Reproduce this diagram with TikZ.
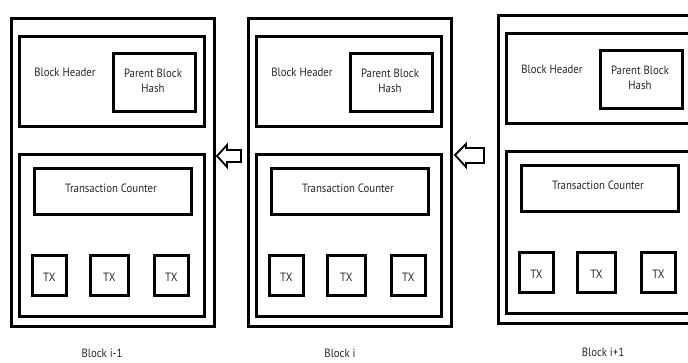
\documentclass[tikz,border=0pt]{standalone}
\usepackage{fontspec}
\setsansfont[FakeStretch=0.9]{PT Sans}
\begin{document}
\begin{tikzpicture}[x=1pt,y=-1pt,
  frame/.style={draw=black,line width=2.8pt,anchor=north west,inner sep=0pt,minimum width=#1},
  lbl/.style={font=\sffamily\fontsize{12}{15}\selectfont,text=black!85,inner sep=0pt,align=center},
  blockarrow/.style={draw=black,line width=1.8pt,line join=miter,fill=white}]
\useasboundingbox (0,0) rectangle (688,362);
\clip (0,0) rectangle (688,362);
\foreach \n/\x/\y/\lx/\ly/\lab in {a/10/17/92/336/{Block i-1}, b/247/17/93/336/{Block i}, c/497/14/106/338/{Block i+1}}{
  \node[frame=203pt,minimum height=308pt] (outer\n) at (\x,\y) {};
  \node[frame=185pt,minimum height=90pt] (header\n) at (\x+8,\y+18) {};
  \node[frame=82pt,minimum height=58pt] (pbh\n) at (\x+102,\y+35) {};
  \node[lbl] (pbht\n) at (\x+143,\y+64) {Parent Block\\Hash};
  \node[lbl] (bh\n) at (\x+55,\y+55) {Block Header};
  \node[frame=185pt,minimum height=162pt] (body\n) at (\x+8,\y+136) {};
  \node[frame=157pt,minimum height=46pt] (tc\n) at (\x+23,\y+150) {};
  \node[lbl] (tct\n) at (\x+101,\y+171) {Transaction Counter};
  \node[frame=34pt,minimum height=40pt] (txa\n) at (\x+21,\y+237) {};
  \node[frame=38pt,minimum height=40pt] (txb\n) at (\x+79,\y+237) {};
  \node[frame=34pt,minimum height=40pt] (txc\n) at (\x+143,\y+237) {};
  \node[lbl] at ([yshift=-2pt]txa\n.center) {TX};
  \node[lbl] at ([yshift=-2pt]txb\n.center) {TX};
  \node[lbl] at ([yshift=-2pt]txc\n.center) {TX};
  \node[lbl] (label\n) at (\x+\lx,\y+\ly) {\lab};
}
\draw[blockarrow] (217,156) -- (227,145) -- (227,150) -- (241,150) -- (241,162) -- (227,162) -- (227,167) -- cycle;
\draw[blockarrow] (455,155) -- (466,144) -- (466,148) -- (484,148) -- (484,163) -- (466,163) -- (466,167) -- cycle;
\end{tikzpicture}
\end{document}
